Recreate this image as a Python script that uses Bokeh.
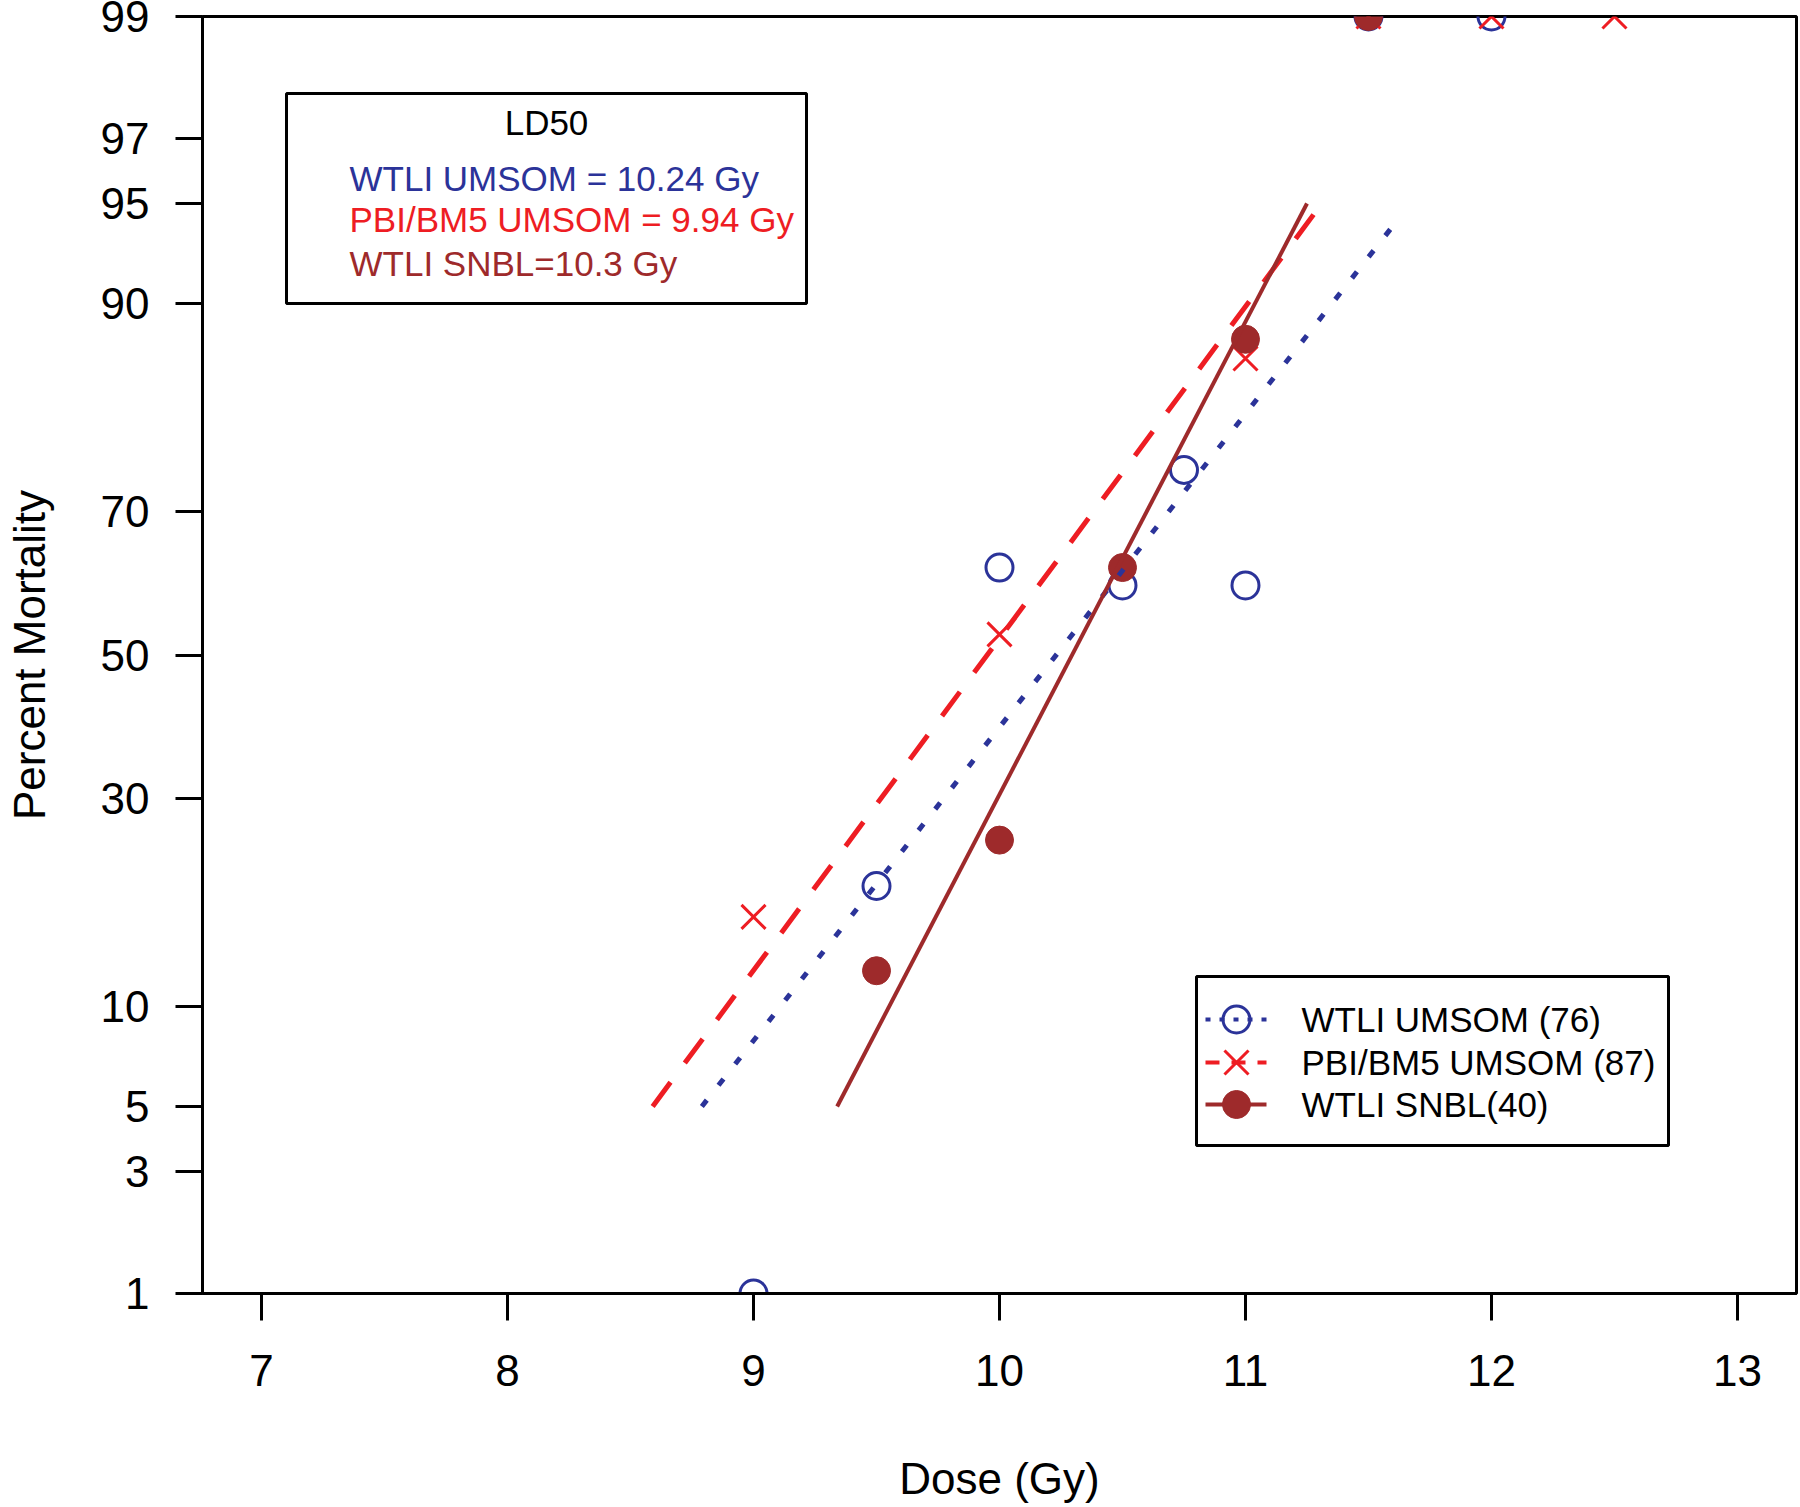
from statistics import NormalDist
from bokeh.plotting import figure
from bokeh.models import (Range1d, FixedTicker, CustomJSTickFormatter, BoxAnnotation, Label)
from bokeh.embed import file_html
from bokeh.resources import INLINE

# ---------------- data ----------------
dose_ticks = [7, 8, 9, 10, 11, 12, 13]
pct_ticks = [1, 3, 5, 10, 30, 50, 70, 90, 95, 97, 99]

wtli_umsom_dose = [9, 9.5, 10, 10.5, 10.75, 11, 11.5, 12]
wtli_umsom_pct = [1, 20, 62.5, 60, 75, 60, 99, 99]

pbi_bm5_dose = [9, 10, 11, 11.5, 12, 12.5]
pbi_bm5_pct = [17, 53, 86, 99, 99, 99]

wtli_snbl_dose = [9.5, 10, 10.5, 11, 11.5]
wtli_snbl_pct = [12.5, 25, 62.5, 87.5, 99]

# fitted probit lines (end points)
wtli_umsom_fit_dose = [8.79, 11.63]
wtli_umsom_fit_pct = [5, 94.5]
pbi_bm5_fit_dose = [8.59, 11.31]
pbi_bm5_fit_pct = [5, 95]
wtli_snbl_fit_dose = [9.34, 11.25]
wtli_snbl_fit_pct = [5, 95]

ld50_title = "LD50"
ld50_lines = ["WTLI UMSOM = 10.24 Gy", "PBI/BM5 UMSOM = 9.94 Gy", "WTLI SNBL=10.3 Gy"]
legend_labels = ["WTLI UMSOM (76)", "PBI/BM5 UMSOM (87)", "WTLI SNBL(40)"]

BLUE = "#2b3399"
RED = "#ee1d23"
DARKRED = "#9e2a2b"
FONT = "Liberation Sans"

nd = NormalDist()
def probit(pcts):
    return [nd.inv_cdf(v / 100.0) for v in pcts]

# ---------------- figure ----------------
X0, X1 = 6.76, 13.24
Y0, Y1 = probit([1])[0], probit([99])[0]

p = figure(width=1800, height=1507, output_backend="svg", toolbar_location=None,
           x_range=Range1d(X0, X1), y_range=Range1d(Y0, Y1),
           min_border_left=202, min_border_right=4, min_border_top=16, min_border_bottom=214)
p.xgrid.visible = False
p.ygrid.visible = False
p.outline_line_color = "black"
p.outline_line_width = 3
p.outline_line_alpha = 1.0
p.background_fill_color = "white"
p.border_fill_color = "white"

# frame helper (page pixels -> data) for annotation placement
FL, FR, FT, FB = 202.0, 1796.0, 16.0, 1293.0
def dx(px):
    return X0 + (px - FL) / (FR - FL) * (X1 - X0)
def dy(py):
    return Y1 - (py - FT) / (FB - FT) * (Y1 - Y0)

p.xaxis.ticker = FixedTicker(ticks=dose_ticks)
p.yaxis.ticker = FixedTicker(ticks=probit(pct_ticks))
p.yaxis.formatter = CustomJSTickFormatter(
    args=dict(pos=probit(pct_ticks), lab=[str(v) for v in pct_ticks]),
    code="""
    let best = 0, bd = 1e9;
    for (let i = 0; i < pos.length; i++) {
        const d = Math.abs(pos[i] - tick);
        if (d < bd) { bd = d; best = i; }
    }
    return lab[best];
""")

for ax in (p.xaxis[0], p.yaxis[0]):
    ax.major_tick_out = 27
    ax.major_tick_in = 0
    ax.minor_tick_line_color = None
    ax.major_tick_line_width = 3
    ax.major_tick_line_color = "black"
    ax.axis_line_width = 3
    ax.axis_line_color = "black"
    ax.major_label_text_font = FONT
    ax.major_label_text_font_size = "44px"
    ax.major_label_text_color = "black"
    ax.axis_label_text_font = FONT
    ax.axis_label_text_font_size = "44px"
    ax.axis_label_text_font_style = "normal"
    ax.axis_label_text_color = "black"

p.xaxis.major_label_standoff = 34
p.yaxis.major_label_standoff = 26
p.xaxis.axis_label = "Dose (Gy)"
p.xaxis.axis_label_standoff = 65
p.yaxis.axis_label = "Percent Mortality"
p.yaxis.axis_label_standoff = 44

# ---------------- points ----------------
def draw_u(xs, ys):
    return p.scatter(xs, ys, marker="circle", size=27, fill_color=None,
                     line_color=BLUE, line_width=3)
def draw_p(xs, ys):
    return p.scatter(xs, ys, marker="x", size=34, line_color=RED, line_width=3)
def draw_s(xs, ys):
    return p.scatter(xs, ys, marker="circle", size=28, fill_color=DARKRED,
                     line_color=DARKRED, line_width=1)

draw_u(wtli_umsom_dose, probit(wtli_umsom_pct))
draw_p(pbi_bm5_dose, probit(pbi_bm5_pct))
draw_s(wtli_snbl_dose, probit(wtli_snbl_pct))

# ---------------- fitted lines ----------------
U_STYLE = dict(line_color=BLUE, line_width=5, line_dash="8 19")
P_STYLE = dict(line_color=RED, line_width=5, line_dash="30 24")
S_STYLE = dict(line_color=DARKRED, line_width=4)
p.line(wtli_umsom_fit_dose, probit(wtli_umsom_fit_pct), **U_STYLE)
p.line(pbi_bm5_fit_dose, probit(pbi_bm5_fit_pct), **P_STYLE)
p.line(wtli_snbl_fit_dose, probit(wtli_snbl_fit_pct), **S_STYLE)

# ---------------- LD50 box ----------------
p.add_layout(BoxAnnotation(left=dx(286), right=dx(806), top=dy(93), bottom=dy(303),
                           fill_color=None, line_color="black",
                           line_width=3, line_alpha=1.0, level="underlay"))
p.add_layout(Label(x=dx(546), y=dy(122), text=ld50_title, text_align="center",
                   text_baseline="middle", text_font=FONT, text_font_size="35px",
                   text_color="black"))
for txt, col, py in zip(ld50_lines, [BLUE, RED, DARKRED], [178, 219, 263]):
    p.add_layout(Label(x=dx(349), y=dy(py), text=txt, text_align="left",
                       text_baseline="middle", text_font=FONT, text_font_size="35px",
                       text_color=col))

# ---------------- legend (drawn by hand, R-style) ----------------
p.add_layout(BoxAnnotation(left=dx(1196), right=dx(1668), top=dy(976), bottom=dy(1145),
                           fill_color=None, line_color="black",
                           line_width=3, line_alpha=1.0, level="underlay"))
rows_y = [1019, 1062, 1104]
styles = [
    dict(line_color=BLUE, line_width=4, line_dash="5 9"),
    dict(line_color=RED, line_width=4, line_dash="14 12"),
    S_STYLE,
]
drawers = [draw_u, draw_p, draw_s]
for lab, py, st, dr in zip(legend_labels, rows_y, styles, drawers):
    p.line([dx(1205), dx(1266)], [dy(py), dy(py)], **st)
    dr([dx(1236)], [dy(py)])
    p.add_layout(Label(x=dx(1301), y=dy(py), text=lab, text_align="left",
                       text_baseline="middle", text_font=FONT, text_font_size="35px",
                       text_color="black"))

open("out.html", "w").write(file_html(p, INLINE))
